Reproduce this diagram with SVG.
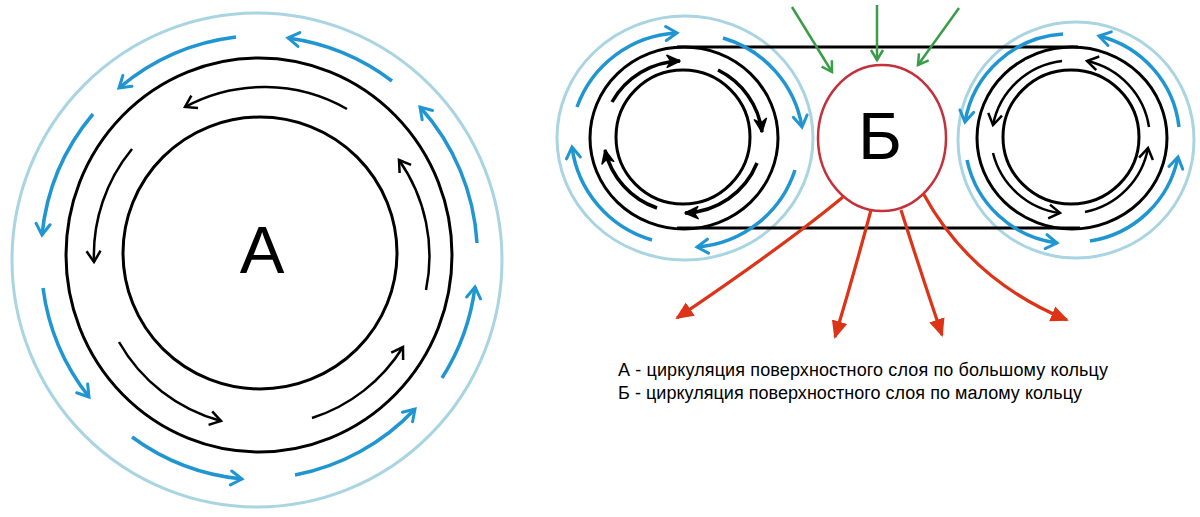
<svg xmlns="http://www.w3.org/2000/svg" width="1200" height="517" viewBox="0 0 1200 517">
<style>
.lb{fill:none;stroke:#a9d4e2;stroke-width:3}
.bk{fill:none;stroke:#000;stroke-width:3}
.ba{fill:none;stroke:#000;stroke-width:2.5;marker-end:url(#mk)}
.bs{fill:none;stroke:#000;stroke-width:3.5;marker-end:url(#mks)}
.bl{fill:none;stroke:#1f96d2;stroke-width:3.5;marker-end:url(#mb)}
.gr{fill:none;stroke:#3a9c48;stroke-width:2.5;marker-end:url(#mg)}
.rd{fill:none;stroke:#dd3418;stroke-width:3.2;marker-end:url(#mr)}
.big{font-family:"Liberation Sans",Arial,sans-serif;font-size:67px;fill:#000;text-anchor:middle}
.cap{font-family:"Liberation Sans",Arial,sans-serif;font-size:18px;fill:#000}
</style>
<defs>
<marker id="mk" markerUnits="userSpaceOnUse" markerWidth="18" markerHeight="18" refX="13" refY="8" orient="auto" viewBox="0 0 18 16">
<path d="M2,1 L13,8 L2,15" fill="none" stroke="#000" stroke-width="2.5"/>
</marker>
<marker id="mks" markerUnits="userSpaceOnUse" markerWidth="18" markerHeight="16" refX="14" refY="7" orient="auto" viewBox="0 0 18 14">
<path d="M1,1 L14,7 L1,13 L5,7 Z" fill="#000" stroke="#000" stroke-width="1.5" stroke-linejoin="round"/>
</marker>
<marker id="mb" markerUnits="userSpaceOnUse" markerWidth="18" markerHeight="18" refX="13" refY="8" orient="auto" viewBox="0 0 18 16">
<path d="M2,1 L13,8 L2,15" fill="none" stroke="#1f96d2" stroke-width="3" stroke-linecap="round"/>
</marker>
<marker id="mg" markerUnits="userSpaceOnUse" markerWidth="16" markerHeight="16" refX="12" refY="7" orient="auto" viewBox="0 0 16 14">
<path d="M2,1 L12,7 L2,13" fill="none" stroke="#3a9c48" stroke-width="2.5"/>
</marker>
<marker id="mr" markerUnits="userSpaceOnUse" markerWidth="20" markerHeight="18" refX="16" refY="8" orient="auto" viewBox="0 0 20 16">
<path d="M0,0 L18,8 L0,16 Z" fill="#dd3418"/>
</marker>
</defs>

<g id="ring-A">
<ellipse class="lb" cx="257" cy="260" rx="245" ry="247"/>
<ellipse class="bk" cx="259" cy="255" rx="193" ry="197"/>
<ellipse class="bk" cx="260" cy="253" rx="137" ry="136"/>
<text class="big" x="262" y="273">А</text>
</g>

<g id="ring-B-left">
<ellipse class="lb" cx="685" cy="138" rx="128" ry="122"/>
<ellipse class="bk" cx="684" cy="138" rx="94" ry="91"/>
<ellipse class="bk" cx="683" cy="137" rx="67" ry="67"/>
</g>

<g id="ring-B-right">
<ellipse class="lb" cx="1076" cy="140" rx="118" ry="118"/>
<ellipse class="bk" cx="1072" cy="138" rx="95" ry="91"/>
<ellipse class="bk" cx="1071" cy="137" rx="68" ry="67"/>
</g>

<g id="belt">
<line class="bk" x1="677" y1="47" x2="1078" y2="47"/>
<line class="bk" x1="677" y1="228" x2="1080" y2="228"/>
</g>

<g id="node-B">
<ellipse cx="882" cy="138" rx="64" ry="73" fill="none" stroke="#c4313a" stroke-width="2.5"/>
<text class="big" x="880" y="159">Б</text>
</g>

<g id="connectors">
<path class="ba" d="M347,109 A167,167 0 0 0 185,107"/>
<path class="ba" d="M132,149 A167,167 0 0 0 94,262"/>
<path class="ba" d="M119,342 A167,167 0 0 0 221,421"/>
<path class="ba" d="M312,418 A167,167 0 0 0 403,347"/>
<path class="ba" d="M426,290 A167,167 0 0 0 399,160"/>

<path class="bl" d="M236,37 A222,222 0 0 0 119,88"/>
<path class="bl" d="M392,81 A222,222 0 0 0 288,38"/>
<path class="bl" d="M93,114 A222,222 0 0 0 42,235"/>
<path class="bl" d="M477,243 A222,222 0 0 0 420,107"/>
<path class="bl" d="M43,288 A222,222 0 0 0 89,397"/>
<path class="bl" d="M442,378 A222,222 0 0 0 475,287"/>
<path class="bl" d="M132,437 A222,222 0 0 0 242,479"/>
<path class="bl" d="M295,475 A222,222 0 0 0 415,409"/>

<path class="bs" d="M612,102 A80,80 0 0 1 680,61"/>
<path class="bs" d="M718,70 A80,80 0 0 1 762,132"/>
<path class="bs" d="M757,163 A80,80 0 0 1 685,213"/>
<path class="bs" d="M657,208 A80,80 0 0 1 605,150"/>
<path class="bl" d="M577,107 A112,112 0 0 1 677,33"/>
<path class="bl" d="M723,38 A112,112 0 0 1 802,127"/>
<path class="bl" d="M795,170 A112,112 0 0 1 697,247"/>
<path class="bl" d="M652,240 A112,112 0 0 1 572,147"/>

<path class="ba" d="M1062,61 A80,80 0 0 0 993,125"/>
<path class="ba" d="M993,153 A80,80 0 0 0 1060,213"/>
<path class="ba" d="M1085,212 A80,80 0 0 0 1148,148"/>
<path class="ba" d="M1149,127 A80,80 0 0 0 1087,61"/>
<path class="bl" d="M1063,34 A106,106 0 0 0 965,122"/>
<path class="bl" d="M967,160 A106,106 0 0 0 1057,243"/>
<path class="bl" d="M1090,241 A106,106 0 0 0 1178,157"/>
<path class="bl" d="M1179,127 A106,106 0 0 0 1099,36"/>

<path class="gr" d="M792,7 L832,72"/>
<path class="gr" d="M877,5 L877,60"/>
<path class="gr" d="M959,8 L918,65"/>

<path class="rd" d="M843,197 Q785,245 677,318"/>
<path class="rd" d="M871,210 Q855,270 835,337"/>
<path class="rd" d="M901,210 Q920,270 942,335"/>
<path class="rd" d="M923,193 Q970,280 1067,320"/>
</g>

<g id="legend">
<text class="cap" x="618" y="376" textLength="490" lengthAdjust="spacing">А - циркуляция поверхностного слоя по большому кольцу</text>
<text class="cap" x="618" y="399" textLength="464" lengthAdjust="spacing">Б - циркуляция поверхностного слоя по малому кольцу</text>
</g>
</svg>
